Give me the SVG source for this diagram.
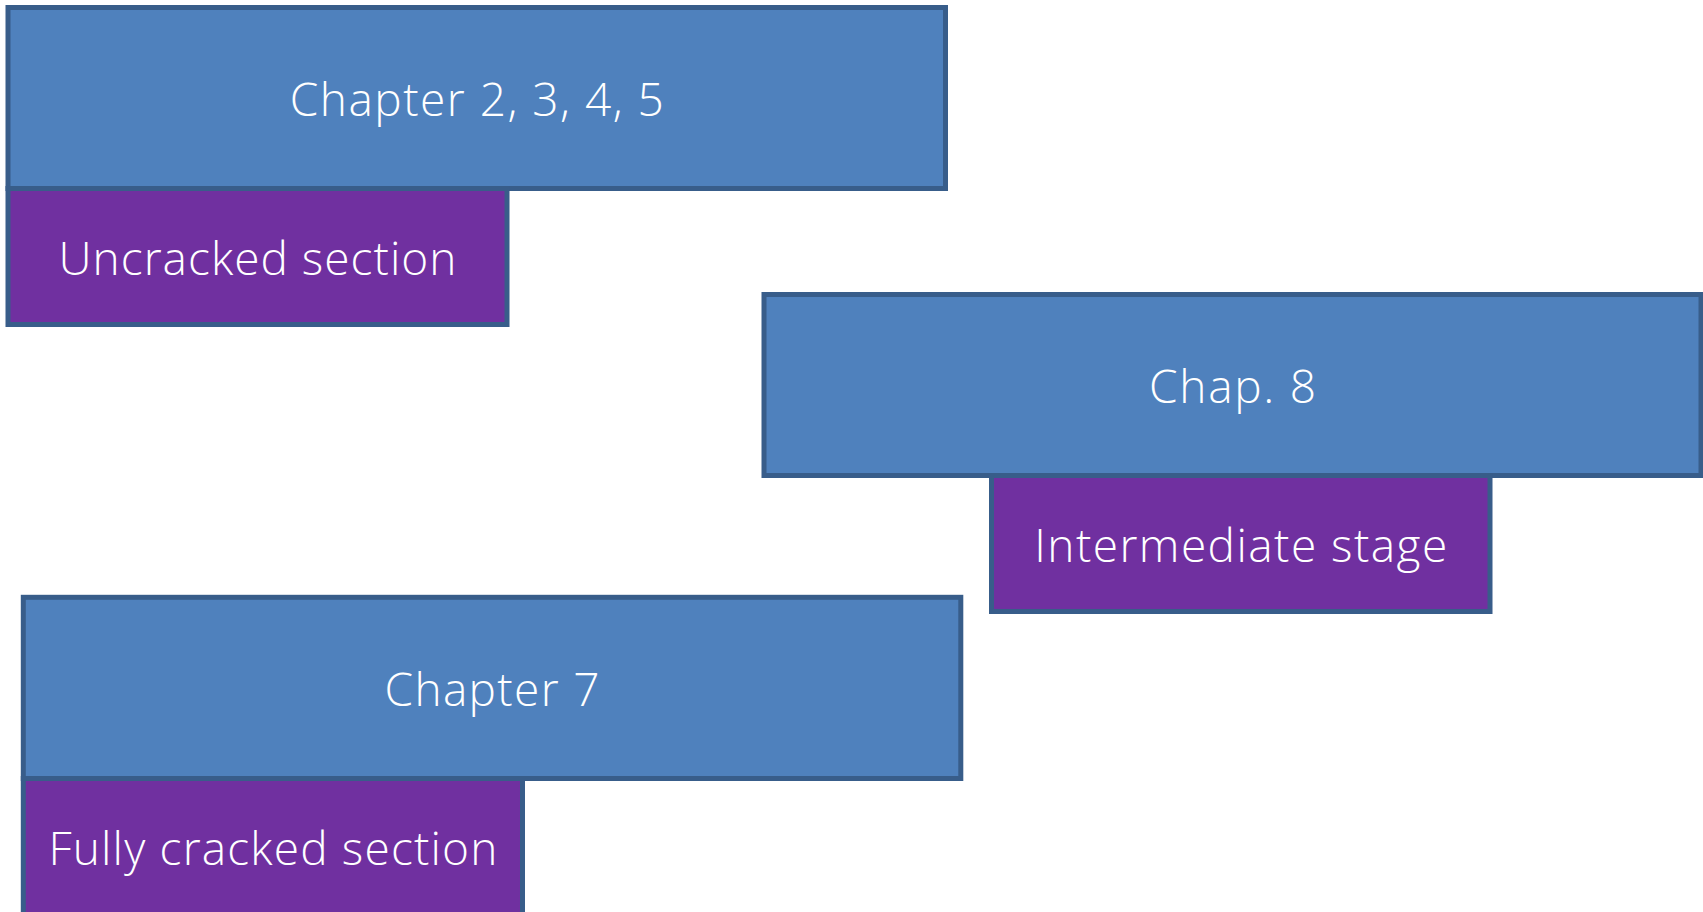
<svg xmlns="http://www.w3.org/2000/svg" width="1703" height="912" viewBox="0 0 1703 912">
  <style>
    .chapter { fill: #4F81BD; stroke: #385D8A; stroke-width: 5; }
    .stage { fill: #7030A0; stroke: #385D8A; stroke-width: 5; }
    .label { fill: #FFFFFF; font-family: "Open Sans", "Noto Sans", "Liberation Sans", sans-serif; font-size: 46px; font-weight: 300; text-anchor: middle; }
  </style>
  <rect width="1703" height="912" fill="#FFFFFF"/>

  <g id="chapter-2-5">
    <rect class="chapter" x="8" y="7.5" width="937.5" height="181"/>
    <text class="label" x="476.75" y="116" textLength="374" lengthAdjust="spacing">Chapter 2, 3, 4, 5</text>
  </g>
  <g id="uncracked">
    <rect class="stage" x="8" y="188.5" width="499" height="136"/>
    <text class="label" x="257.5" y="274.5" textLength="398" lengthAdjust="spacing">Uncracked section</text>
  </g>

  <g id="chapter-8">
    <rect class="chapter" x="764" y="294.5" width="937" height="181"/>
    <text class="label" x="1232.5" y="403" textLength="167" lengthAdjust="spacing">Chap. 8</text>
  </g>
  <g id="intermediate">
    <rect class="stage" x="991.5" y="475.5" width="498.5" height="136"/>
    <text class="label" x="1240.75" y="561.5" textLength="413" lengthAdjust="spacing">Intermediate stage</text>
  </g>

  <g id="chapter-7">
    <rect class="chapter" x="23.3" y="597.3" width="937.5" height="181.2"/>
    <text class="label" x="492" y="706" textLength="215" lengthAdjust="spacing">Chapter 7</text>
  </g>
  <g id="fully-cracked">
    <rect class="stage" x="23.3" y="778.5" width="499.2" height="136"/>
    <text class="label" x="272.9" y="865" textLength="449" lengthAdjust="spacing">Fully cracked section</text>
  </g>

  <g id="connectors"/>
</svg>
